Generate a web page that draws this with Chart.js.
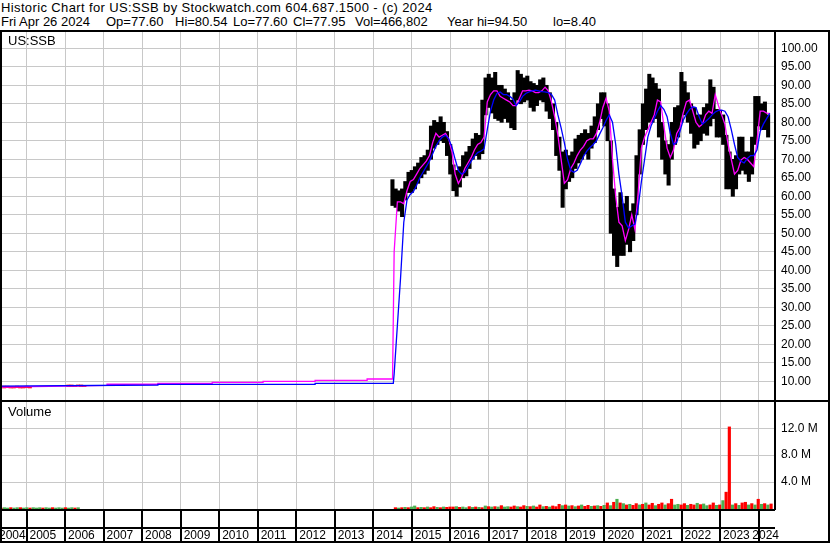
<!DOCTYPE html>
<html>
<head>
<meta charset="utf-8">
<script src="https://cdn.jsdelivr.net/npm/chart.js@4.4.1/dist/chart.umd.min.js"></script>
<style>
  body { margin: 0; background: #fff; }
  #wrap { position: relative; width: 830px; height: 543px; overflow: hidden; font-family: "Liberation Sans", Arial, sans-serif; color: #000; }
  .head { position: absolute; top: 15px; font-size: 13px; line-height: 14px; white-space: pre; }
  #frame { position: absolute; left: 0; top: 30px; width: 826px; height: 509px; border: 2px solid #000; pointer-events: none; z-index: 3; }
  #sep { position: absolute; left: 0; top: 400px; width: 830px; height: 2px; background: #000; z-index: 3; }
  .lbl { position: absolute; font-size: 13px; line-height: 14px; z-index: 2; }
  canvas { position: absolute; left: 0; }
</style>
</head>
<body>
<div id="wrap">
  <div class="head" style="left:1px; top:1px; letter-spacing:0.37px">Historic Chart for US:SSB by Stockwatch.com 604.687.1500 - (c) 2024</div>
  <div class="head" style="left:1px">Fri Apr 26 2024</div>
  <div class="head" style="left:106px">Op=77.60</div>
  <div class="head" style="left:175px">Hi=80.54</div>
  <div class="head" style="left:233px">Lo=77.60</div>
  <div class="head" style="left:293px">Cl=77.95</div>
  <div class="head" style="left:355px">Vol=466,802</div>
  <div class="head" style="left:447px">Year hi=94.50</div>
  <div class="head" style="left:553px">lo=8.40</div>
  <canvas id="price" width="830" height="368" style="top:32px"></canvas>
  <canvas id="vol" width="830" height="141" style="top:402px"></canvas>
  <div class="lbl" style="left:8px; top:34px">US:SSB</div>
  <div class="lbl" style="left:8px; top:405px">Volume</div>
  <div id="sep"></div>
  <div id="frame"></div>
</div>
<script>
// ---- data ----
// monthly high / low, Jul 2014 .. Apr 2024
const hi = [
  64.5, 62, 61.5, 62, 64, 66.5,
  67, 68, 69, 70.5, 71, 72.5, 79, 80.5, 80, 81.5, 80, 77.5,
  74, 68.5, 67, 68, 71, 72, 73.5, 75.5, 77, 76.5, 86, 92,
  93, 92, 93.5, 90, 90, 89, 88, 86, 88, 94, 93, 92,
  92.5, 91, 90.5, 90, 91.5, 92, 90, 88, 85, 80, 76, 72,
  72.5, 71, 72, 75.5, 76.5, 77, 78, 77, 79, 81.5, 85, 88,
  88, 85, 75, 62, 57, 61, 58, 60, 56, 58, 71, 78,
  85, 89, 93, 92, 90.5, 89, 80, 75, 74, 80, 84, 84.5,
  93.5, 91, 88, 85, 84, 82, 82, 84, 85, 91.5, 89.5, 83.5,
  83, 82, 76.5, 72, 70, 71, 76, 76, 72, 72, 76, 87,
  87, 85, 85.5, 82
];
const lo = [
  57.5, 57, 56, 54.5, 59, 61,
  61, 62, 63.5, 65, 66, 67, 70, 73, 74, 75, 74.5, 71,
  66, 61.5, 60, 62.5, 65, 65.5, 67.5, 70, 71, 70, 71.5, 82,
  84, 82.5, 81, 80.5, 80, 81, 80, 78.5, 78, 86, 85, 85.5,
  86, 84, 83, 84.5, 86, 85.5, 83, 81, 78, 71, 67, 57,
  62, 64, 65, 67.5, 69, 70, 71.5, 70, 73, 74.5, 78, 81,
  79, 75, 50, 44, 41, 44, 44, 47, 45, 48, 55, 66,
  74, 78, 80, 80, 81, 76, 70, 66, 63, 70, 74, 76,
  80, 82, 80, 77, 73, 74, 75, 77, 76.5, 79, 81, 76,
  76, 74, 62, 62, 60, 62, 66, 67, 66, 64, 66, 74,
  79, 78, 78, 76
];
// magenta (short) and blue (long) averages, same months
const maFast = [
  45, 58.5, 58.5, 58, 61.5, 64,
  64.5, 66, 67.5, 68.5, 69.5, 71, 74.5, 77, 76, 76.5, 77, 75.5,
  72, 66, 63.5, 65, 67.5, 69, 70.5, 72.5, 74, 74.5, 76, 85.5,
  87.5, 88.5, 88.5, 87, 86.5, 86, 85.5, 84.5, 84.5, 86.5, 88.5, 88.5,
  88.7, 88.5, 88, 88, 88.5, 89.5, 88.5, 85.5, 81.5, 76.5, 70, 63.5,
  64.5, 67.5, 69, 71, 72.5, 73.5, 75, 75.5, 75.5, 77, 80, 84,
  86.5, 83, 70, 60, 53, 52, 48, 51, 55, 51, 61, 73,
  76, 78, 80, 82, 86, 85.5, 79, 73, 70.5, 72.5, 77, 78.5,
  82.5, 85.5, 86, 83, 80, 78.8, 79.5, 82, 83, 82.4, 87.5, 84.5,
  82, 79.5, 74, 70, 66, 67, 69.8, 70.5, 70, 69, 68, 75,
  83, 83, 82.5, 82.4
];
const maSlow = [
  12, 25, 38, 53, 59, 60.5,
  61.3, 63, 65, 66.5, 68, 69.5, 71.5, 73.5, 75, 76, 76.5, 75.5,
  73.3, 70, 67, 66, 66.5, 68, 69.5, 70.8, 71.8, 72.2, 72.8, 78,
  83, 86, 87.8, 88.2, 87.5, 87.5, 87, 86.3, 84.5, 85.5, 87, 87.8,
  88.2, 88.5, 88.7, 88.5, 88.3, 88.2, 88, 87.5, 86, 82, 78.5, 74.5,
  70, 67, 66.5, 67, 68.8, 70.8, 72.2, 73.2, 74, 75, 76.8, 78.5,
  80.5, 82, 80, 74, 66, 60, 53, 51.5, 52, 52.5, 57, 64,
  70, 76, 79, 81, 83, 84.5, 83.5, 81.5, 77, 74, 74.5, 77.5,
  80.5, 82.2, 83.5, 84.2, 84, 81.5, 79.5, 80.2, 81, 82, 82.8, 83.2,
  83.3, 83, 81.5, 78, 74, 70.5, 69.5, 69, 70.2, 71, 71, 72.5,
  77.5, 79.5, 81, 82.4
];
// volume in millions, 1 = up (green), 0 = down (red)
const volume = [
  0.2, 0.15, 0.2, 0.25, 0.2, 0.3,
  0.45, 0.2, 0.25, 0.2, 0.3, 0.2, 0.35, 0.25, 0.2, 0.3, 0.25, 0.3,
  0.3, 0.35, 0.25, 0.3, 0.2, 0.35, 0.25, 0.3, 0.25, 0.2, 0.45, 0.35,
  0.3, 0.35, 0.3, 0.5, 0.3, 0.35, 0.3, 0.45, 0.35, 0.3, 0.5, 0.4,
  0.35, 0.45, 0.3, 0.6, 0.35, 0.4, 0.3, 0.45, 0.35, 0.7, 0.5, 0.6,
  0.45, 0.5, 0.35, 0.45, 0.6, 0.4, 0.55, 0.4, 0.45, 0.5, 0.4, 0.55,
  0.9, 0.5, 1.0, 1.45, 0.9, 0.8, 0.6, 0.7, 0.55, 0.8, 0.6, 0.7,
  0.9, 0.6, 0.85, 0.5, 0.7, 0.9, 0.6, 0.8, 1.45, 0.6, 0.7, 0.6,
  0.8, 0.55, 0.7, 0.6, 0.85, 0.65, 0.75, 0.5, 0.6, 0.9, 0.55, 0.6,
  1.25, 2.5, 12.2, 0.6, 0.8, 0.55, 0.9, 1.0, 0.6, 0.8, 0.6, 1.45,
  0.7, 0.8, 0.6, 0.75
];
const volUp = [
  0, 1, 0, 1, 0, 1,
  1, 0, 1, 0, 1, 0, 0, 1, 0, 1, 0, 0,
  0, 1, 0, 1, 1, 0, 1, 0, 1, 0, 1, 0,
  1, 0, 1, 0, 1, 1, 0, 0, 1, 0, 0, 1,
  0, 1, 0, 0, 1, 0, 1, 0, 0, 0, 1, 0,
  1, 0, 1, 0, 1, 0, 0, 1, 0, 1, 0, 1,
  0, 1, 0, 1, 0, 1, 0, 1, 0, 0, 1, 0,
  1, 0, 0, 1, 0, 0, 1, 0, 0, 1, 1, 0,
  0, 1, 0, 0, 1, 0, 1, 1, 0, 0, 1, 0,
  1, 0, 0, 1, 0, 1, 0, 0, 1, 0, 1, 0,
  1, 0, 1, 0
];

// thin early history (2004-2006)
const earlyTickMonths = ['2004-05', '2004-06', '2004-07', '2004-08', '2004-09', '2004-10', '2004-11', '2004-12', '2005-01',
  '2006-01', '2006-02', '2006-03', '2006-04', '2006-05', '2006-06'];
const earlyTickHi = [8.7, 8.7, 8.6, 8.6, 8.7, 8.6, 8.6, 8.7, 8.6, 9.0, 9.0, 8.9, 9.0, 9.0, 8.9];
const earlyTickLo = [8.2, 8.3, 8.2, 8.2, 8.3, 8.2, 8.2, 8.3, 8.2, 8.6, 8.6, 8.6, 8.7, 8.6, 8.6];
const earlyVol = [0.15, 0.2, 0.15, 0.2, 0.15, 0.2, 0.2, 0.15, 0.2, 0.15, 0.2, 0.15, 0.2, 0.15, 0.2,
  0.15, 0.2, 0.15, 0.2, 0.15, 0.2, 0.15, 0.2, 0.15, 0.2];
const earlyVolUp = [0, 1, 1, 0, 1, 1, 0, 1, 1, 0, 1, 1, 1, 0, 1, 1, 0, 1, 1, 1, 0, 1, 1, 0, 1];
// [year, value] steps of the averages before the 2014 jump
const maFastEarly = [[2004.36, 8.45], [2006.44, 8.8], [2007.09, 8.9], [2007.09, 9.2], [2008.41, 9.2], [2008.41, 9.46],
  [2009.82, 9.46], [2009.82, 9.73], [2011.14, 9.73], [2011.14, 10.0], [2012.49, 10.0], [2012.49, 10.27],
  [2013.84, 10.27], [2013.84, 10.62], [2014.50, 10.62]];
const maSlowEarly = [[2004.36, 8.7], [2008.41, 9.0], [2008.41, 9.19], [2012.49, 9.19], [2012.49, 9.46], [2014.52, 9.46]];

const priceTicks = [10, 15, 20, 25, 30, 35, 40, 45, 50, 55, 60, 65, 70, 75, 80, 85, 90, 95, 100];
const volTicks = [4, 8, 12];
const years = [2004, 2005, 2006, 2007, 2008, 2009, 2010, 2011, 2012, 2013, 2014, 2015, 2016, 2017, 2018, 2019, 2020, 2021, 2022, 2023, 2024];

// ---- helpers ----
const ym = s => { const [y, m] = s.split('-').map(Number); return y + (m - 0.5) / 12; };
const months = [];
for (let y = 2014, m = 7; months.length < hi.length;) {
  months.push(y + '-' + String(m).padStart(2, '0'));
  if (++m > 12) { m = 1; y++; }
}
const earlyVolMonths = [];
for (let y = 2004, m = 5; earlyVolMonths.length < earlyVol.length;) {
  earlyVolMonths.push(y + '-' + String(m).padStart(2, '0'));
  if (++m > 12) { m = 1; y++; }
}

const X_MIN = 2004.364, X_MAX = 2024.426;
const GRID = '#c8c8c8';
const GREEN = '#4caf50', RED = '#ff0000';
const FONT = { family: 'Liberation Sans, Arial, sans-serif', size: 12 };

function xAxis() {
  return {
    type: 'linear', min: X_MIN, max: X_MAX, offset: false,
    afterBuildTicks: s => { s.ticks = years.slice(1).map(v => ({ value: v })); },
    afterFit: s => { s.height = 0; s.paddingLeft = 0; s.paddingRight = 0; },
    grid: { color: GRID, drawTicks: false, offset: false },
    border: { display: false },
    ticks: { display: false }
  };
}

function yAxis(min, max, ticks, fmt) {
  return {
    position: 'right', min, max,
    afterBuildTicks: s => { s.ticks = ticks.map(v => ({ value: v })); },
    afterFit: s => { s.width = 55; s.paddingTop = 0; s.paddingBottom = 0; },
    grid: { color: GRID, drawTicks: false },
    border: { display: true, color: '#000', width: 2 },
    ticks: { padding: 6, color: '#000', font: FONT, callback: fmt }
  };
}

const common = {
  responsive: false, animation: false, devicePixelRatio: 1,
  plugins: { legend: { display: false }, tooltip: { enabled: false } }
};

// ---- price chart ----
new Chart(document.getElementById('price'), {
  type: 'bar',
  data: {
    datasets: [
      {
        label: 'early', order: 4, barThickness: 3.4,
        backgroundColor: RED,
        data: earlyTickMonths.map((m, i) => ({ x: ym(m), y: [earlyTickLo[i], earlyTickHi[i]] }))
      },
      {
        label: 'range', order: 3, barThickness: 3.4,
        backgroundColor: '#000',
        data: months.map((m, i) => ({ x: ym(m), y: [lo[i], hi[i]] }))
      },
      {
        type: 'line', label: 'fast', order: 2,
        borderColor: '#ff00ff', borderWidth: 1.3, pointRadius: 0, tension: 0,
        data: maFastEarly.map(p => ({ x: p[0], y: p[1] })).concat(months.map((m, i) => ({ x: ym(m), y: maFast[i] })))
      },
      {
        type: 'line', label: 'slow', order: 1,
        borderColor: '#0000ff', borderWidth: 1.3, pointRadius: 0, tension: 0,
        data: maSlowEarly.map(p => ({ x: p[0], y: p[1] })).concat(months.map((m, i) => ({ x: ym(m), y: maSlow[i] })))
      }
    ]
  },
  options: {
    ...common,
    layout: { padding: { left: 2, right: 0, top: 0, bottom: 0 } },
    scales: {
      x: xAxis(),
      y: yAxis(4.95, 104.4, priceTicks, v => v.toFixed(2))
    }
  }
});

// ---- volume chart + bottom year rows ----
const yearRows = {
  id: 'yearRows',
  afterDraw(chart) {
    const { ctx, chartArea: a, scales: { x } } = chart;
    ctx.save();
    ctx.fillStyle = '#000';
    ctx.fillRect(0, a.bottom, a.right, 2);
    ctx.fillRect(0, a.bottom + 18, a.right, 2);
    ctx.font = '12px "Liberation Sans", Arial, sans-serif';
    ctx.textBaseline = 'alphabetic';
    years.forEach(yr => {
      const px = x.getPixelForValue(yr);
      if (px > 0 && px < a.right) ctx.fillRect(Math.round(px) - 1, a.bottom + 2, 2, 30);
      const t = String(yr);
      const w = ctx.measureText(t).width;
      let left = px + 3;
      if (left < -1) left = -1;
      if (left + w > 779) left = 779 - w;
      ctx.fillText(t, left, a.bottom + 30);
    });
    ctx.restore();
  }
};

new Chart(document.getElementById('vol'), {
  type: 'bar',
  data: {
    datasets: [
      {
        label: 'early vol', barThickness: 2.5,
        backgroundColor: earlyVolUp.map(u => u ? GREEN : RED),
        data: earlyVolMonths.map((m, i) => ({ x: ym(m), y: earlyVol[i] }))
      },
      {
        label: 'vol', barThickness: 2.5,
        backgroundColor: volUp.map(u => u ? GREEN : RED),
        data: months.map((m, i) => ({ x: ym(m), y: volume[i] }))
      }
    ]
  },
  options: {
    ...common,
    layout: { padding: { left: 2, right: 0, top: 0, bottom: 34 } },
    scales: {
      x: xAxis(),
      y: yAxis(0, 15.9, volTicks, v => v.toFixed(1) + ' M')
    }
  },
  plugins: [yearRows]
});
</script>
</body>
</html>
